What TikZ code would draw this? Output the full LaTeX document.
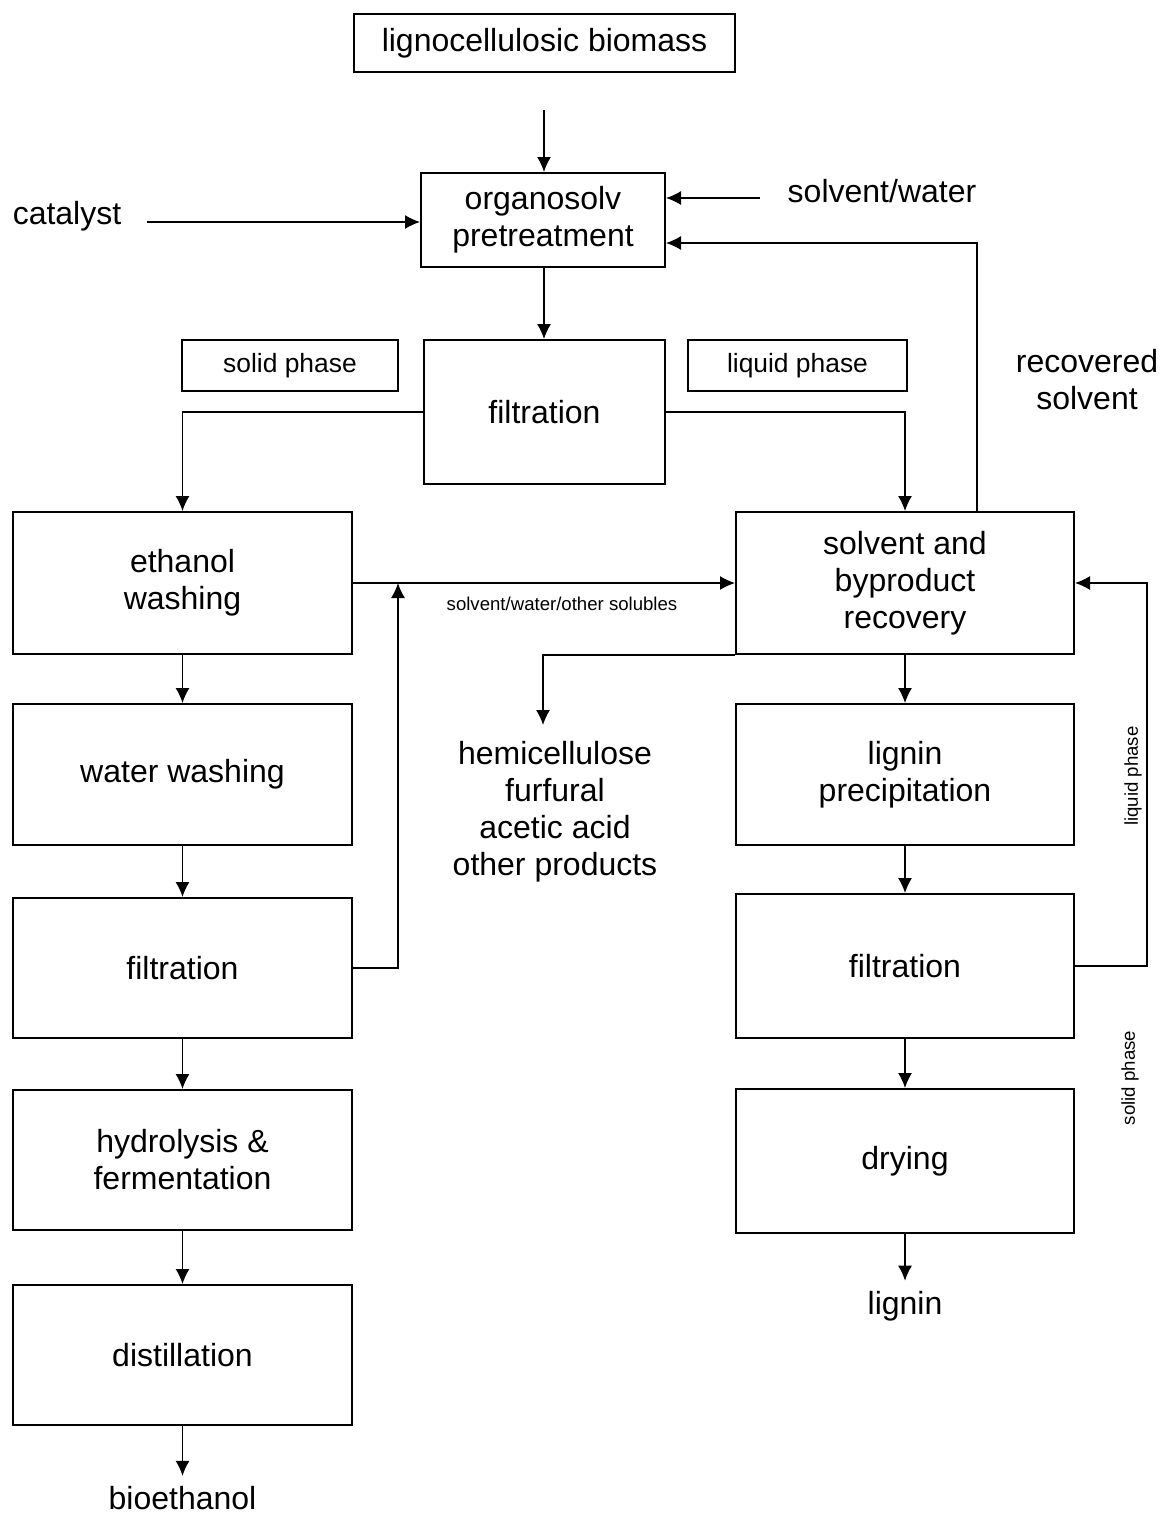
\documentclass[tikz,border=0pt]{standalone}
\usepackage{fontspec}
\setmainfont{Liberation Sans}
\usetikzlibrary{arrows.meta}

\tikzset{
  box/.style={draw, line width=1pt, align=center, inner sep=0pt, font=\fontsize{16}{18.5}\selectfont},
  phasebox/.style={draw, line width=1pt, align=center, inner sep=0pt, font=\fontsize{13.2}{15}\selectfont},
  txt/.style={align=center, inner sep=5pt, font=\fontsize{16}{18.5}\selectfont},
  small/.style={align=center, inner sep=0pt, font=\fontsize{9.3}{11}\selectfont},
  flow/.style={line width=0.7pt, -{Latex[length=7.5pt,width=7pt]}},
  line/.style={line width=0.7pt}
}

\begin{document}
\begin{tikzpicture}[x=0.5pt,y=-0.5pt]
\useasboundingbox (0,0) rectangle (1162,1515);

% top of the process
\node[box, minimum width=190.5pt, minimum height=29pt] (bio) at (544.5,43) {lignocellulosic biomass};
\node[box, minimum width=122pt, minimum height=47pt] (org) at (543,220) {organosolv\\pretreatment};
\node[box, minimum width=120.5pt, minimum height=72pt] (filta) at (544.5,412) {filtration};
\node[phasebox, minimum width=108pt, minimum height=25.5pt] (solid) at (290,365.5) {solid phase};
\node[phasebox, minimum width=109.5pt, minimum height=25.5pt] (liquid) at (797.5,365.5) {liquid phase};

\node[txt] (cat) at (67,216) {catalyst};
\node[txt] (solv) at (882,191) {solvent/water};
\node[txt] (recsolv) at (1087,380) {recovered\\solvent};

\coordinate (feed) at (544,110);
\coordinate (catin) at (147,222);
\coordinate (solvin) at (760,198);

\draw[flow] (feed) -- (feed |- org.north);
\draw[flow] (catin) -- (catin -| org.west);
\draw[flow] (solvin) -- (solvin -| org.east);
\draw[flow] (feed |- org.south) -- (feed |- filta.north);

% left column: solid phase
\node[box, minimum width=169.5pt, minimum height=71pt] (eth) at (182.5,583) {ethanol\\washing};
\node[box, minimum width=169.5pt, minimum height=70.5pt] (wat) at (182.5,774.5) {water washing};
\node[box, minimum width=169.5pt, minimum height=70pt] (filtb) at (182.5,968) {filtration};
\node[box, minimum width=169.5pt, minimum height=70pt] (hyd) at (182.5,1160) {hydrolysis \&\\fermentation};
\node[box, minimum width=169.5pt, minimum height=70pt] (dist) at (182.5,1355) {distillation};
\node[txt] (bioeth) at (182.5,1498) {bioethanol};

\draw[flow] (filta.west) -| (eth.north);
\draw[flow] (eth.south) -- (wat.north);
\draw[flow] (wat.south) -- (filtb.north);
\draw[flow] (filtb.south) -- (hyd.north);
\draw[flow] (hyd.south) -- (dist.north);
\draw[flow] (dist.south) -- (bioeth.north);

% right column: liquid phase
\node[box, minimum width=169pt, minimum height=71pt] (rec) at (905,583) {solvent and\\byproduct\\recovery};
\node[box, minimum width=169pt, minimum height=70.5pt] (lig) at (905,774.5) {lignin\\precipitation};
\node[box, minimum width=169pt, minimum height=72pt] (filtc) at (905,966) {filtration};
\node[box, minimum width=169pt, minimum height=72pt] (dry) at (905,1161) {drying};
\node[txt] (lignin) at (905,1306) {lignin};
\node[txt, inner sep=0pt] (hemi) at (555,812) {hemicellulose\\furfural\\acetic acid\\other products};

\draw[flow] (filta.east) -| (rec.north);
\draw[flow] (rec.south) -- (lig.north);
\draw[flow] (lig.south) -- (filtc.north);
\draw[flow] (filtc.south) -- (dry.north);
\draw[flow] (dry.south) -- (lignin.north);

\coordinate (byp) at (543,725);
\draw[flow] (rec.south west) -| (byp);

% solubles from the washing to recovery
\coordinate (join) at (398,583);
\draw[flow] (eth.east) -- (rec.west);
\node[small] (solub) at (562,604) {solvent/water/other solubles};
\draw[flow] (filtb.east) -| (join);

% recycle loops
\draw[flow] ([xshift=36pt]rec.north) |- ([yshift=-11.5pt]org.east);
\draw[flow] (filtc.east) -| ++(36pt,0) |- (rec.east);
\node[small, rotate=90] (liqlab) at (1133,776) {liquid phase};
\node[small, rotate=90] (sollab) at (1130,1078) {solid phase};

\end{tikzpicture}
\end{document}
